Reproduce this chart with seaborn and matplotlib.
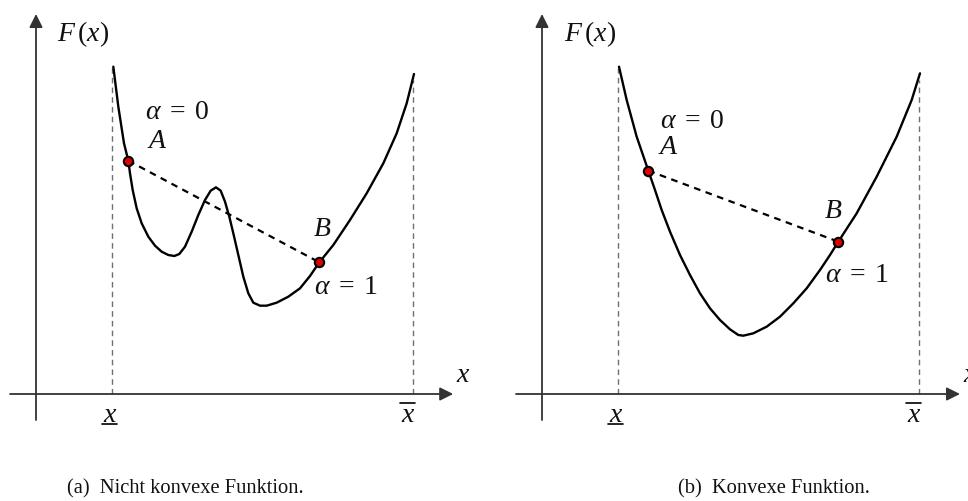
import matplotlib
matplotlib.use("Agg")
import matplotlib.pyplot as plt
import seaborn as sns
import pandas as pd

sns.set_theme(style="white")
plt.rcParams["font.family"] = ["Liberation Serif", "DejaVu Serif"]
plt.rcParams["mathtext.fontset"] = "custom"
plt.rcParams["mathtext.it"] = "Liberation Serif:italic"
plt.rcParams["mathtext.rm"] = "Liberation Serif"
plt.rcParams["mathtext.cal"] = "Liberation Serif:italic"

# ---- function values (x, F(x)) ----
nonconvex_x = [1.933, 2.058, 2.200, 2.308, 2.350, 2.417, 2.517, 2.642, 2.808, 2.975,
               3.142, 3.308, 3.458, 3.583, 3.725, 3.892, 4.058, 4.225, 4.367, 4.500,
               4.617, 4.725, 4.833, 4.933, 5.058, 5.183, 5.308, 5.433, 5.600, 5.767,
               6.017, 6.308, 6.600, 6.850, 7.083, 7.433, 7.850, 8.267, 8.683, 9.017,
               9.267, 9.450]
nonconvex_y = [8.183, 7.183, 6.267, 5.833, 5.517, 5.100, 4.642, 4.267, 3.933, 3.708,
               3.558, 3.475, 3.450, 3.500, 3.683, 4.058, 4.475, 4.850, 5.083, 5.167,
               5.083, 4.808, 4.433, 4.017, 3.475, 2.933, 2.517, 2.283, 2.208, 2.208,
               2.283, 2.433, 2.642, 2.950, 3.292, 3.725, 4.350, 5.017, 5.767, 6.517,
               7.267, 8.000]

convex_x = [1.925, 2.117, 2.367, 2.658, 2.825, 2.992, 3.200, 3.450, 3.700, 3.950,
            4.200, 4.450, 4.700, 4.908, 5.033, 5.283, 5.617, 5.950, 6.283, 6.617,
            6.950, 7.200, 7.408, 7.867, 8.367, 8.867, 9.242, 9.450]
convex_y = [8.183, 7.350, 6.433, 5.583, 5.100, 4.600, 4.058, 3.475, 2.975, 2.517,
            2.142, 1.850, 1.617, 1.475, 1.458, 1.517, 1.683, 1.933, 2.267, 2.642,
            3.100, 3.475, 3.808, 4.517, 5.433, 6.433, 7.350, 8.017]

# chord end points A (alpha = 0) and B (alpha = 1)
nonconvex_ab_x = [2.308, 7.083]
nonconvex_ab_y = [5.833, 3.292]
convex_ab_x = [2.658, 7.408]
convex_ab_y = [5.583, 3.808]

# domain bounds and height of the dashed guides
x_lower, x_upper = 1.90, 9.425
guide_top = [8.15, 7.85]

captions = ["(a)  Nicht konvexe Funktion.", "(b)  Konvexe Funktion."]

AX_COLOR = "#333333"
GUIDE_COLOR = "#707070"
MATH_SIZE = 20

fig = plt.figure(figsize=(9.68, 5.01), dpi=100)
# each panel: 40 px per unit, origin at the axis crossing
panels = [
    dict(rect=[0.0, 0.0, 484 / 968, 1.0], xlim=(-0.9, 11.2),
         cx=nonconvex_x, cy=nonconvex_y, abx=nonconvex_ab_x, aby=nonconvex_ab_y,
         a0=(3.525, 7.025), A=(3.025, 6.30), B=(7.15, 4.12), a1=(7.75, 2.675),
         fx=(1.175, 9.0), xl=(10.675, 0.475), xarrow=10.43, cap=3.725),
    dict(rect=[484 / 968, 0.0, 484 / 968, 1.0], xlim=(-1.45, 10.65),
         cx=convex_x, cy=convex_y, abx=convex_ab_x, aby=convex_ab_y,
         a0=(3.75, 6.80), A=(3.15, 6.15), B=(7.275, 4.55), a1=(7.875, 2.95),
         fx=(1.20, 9.0), xl=(10.70, 0.475), xarrow=10.45, cap=5.80),
]

for i, p in enumerate(panels):
    ax = fig.add_axes(p["rect"])
    ax.set_xlim(*p["xlim"])
    ax.set_ylim(-2.675, 9.85)

    # coordinate axes with arrow heads
    ax.annotate("", xy=(p["xarrow"], 0), xytext=(-0.65, 0),
                arrowprops=dict(arrowstyle="-|>", mutation_scale=20, lw=1.3,
                                color=AX_COLOR, shrinkA=0, shrinkB=0))
    ax.annotate("", xy=(0, 9.5), xytext=(0, -0.65),
                arrowprops=dict(arrowstyle="-|>", mutation_scale=20, lw=1.3,
                                color=AX_COLOR, shrinkA=0, shrinkB=0))

    # dashed guides at the domain bounds
    ax.plot([x_lower, x_lower], [0, guide_top[0]], color=GUIDE_COLOR, lw=1.0,
            ls=(0, (4, 3)))
    ax.plot([x_upper, x_upper], [0, guide_top[1]], color=GUIDE_COLOR, lw=1.0,
            ls=(0, (4, 3)))

    # the function
    df = pd.DataFrame({"x": p["cx"], "F": p["cy"]})
    sns.lineplot(data=df, x="x", y="F", sort=False, color="black", lw=1.7,
                 ax=ax, legend=False)
    for ln in ax.get_lines():
        ln.set_solid_joinstyle("round")

    # chord between A and B
    chord = pd.DataFrame({"x": p["abx"], "F": p["aby"]})
    sns.lineplot(data=chord, x="x", y="F", sort=False, color="black", lw=1.6,
                 ax=ax, legend=False, linestyle=(0, (3, 2.5)))
    sns.scatterplot(data=chord, x="x", y="F", color="#e00000", edgecolor="black",
                    linewidth=1.5, s=45, ax=ax, zorder=5, legend=False)
    ax.set_axis_off()

    txt = dict(fontsize=MATH_SIZE, ha="center", va="center", color="#111111")
    ax.text(*p["a0"], r"$\alpha\;=\;0$", **txt)
    ax.text(*p["A"], r"$A$", **txt)
    ax.text(*p["B"], r"$B$", **txt)
    ax.text(*p["a1"], r"$\alpha\;=\;1$", **txt)
    ax.text(*p["fx"], r"$F\,(x)$", **txt)
    ax.text(*p["xl"], r"$x$", **txt)

    # bound labels under the x axis
    ax.text(x_lower - 0.05, -0.55, r"$x$", **txt)
    ax.plot([x_lower - 0.25, x_lower + 0.13], [-0.74, -0.74], color="black", lw=1.2)
    ax.text(x_upper - 0.12, -0.55, r"$x$", **txt)
    ax.plot([x_upper - 0.33, x_upper + 0.05], [-0.23, -0.23], color="black", lw=1.2)

    ax.text(p["cap"], -2.38, captions[i], fontsize=14.8, ha="center", va="center",
            color="#111111")

fig.savefig("out.png", dpi=100)
